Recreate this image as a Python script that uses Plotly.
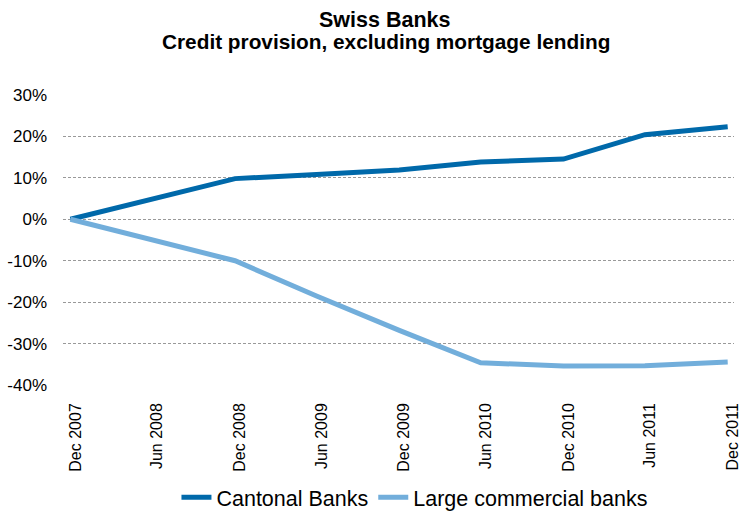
import plotly.graph_objects as go

# Semi-annual observation dates and axis labels
dates = ["2007-12-31", "2008-06-30", "2008-12-31", "2009-06-30", "2009-12-31",
         "2010-06-30", "2010-12-31", "2011-06-30", "2011-12-31"]
tick_labels = ["Dec 2007", "Jun 2008", "Dec 2008", "Jun 2009", "Dec 2009",
               "Jun 2010", "Dec 2010", "Jun 2011", "Dec 2011"]

# Cumulative change in credit provision (%), excluding mortgage lending
cantonal = [0.0, 5.0, 9.8, 10.8, 11.9, 13.8, 14.5, 20.4, 22.3]
large_commercial = [0.0, -5.0, -10.0, -18.5, -26.8, -34.6, -35.4, -35.3, -34.4]

y_ticks = [30, 20, 10, 0, -10, -20, -30, -40]
y_tick_labels = [f"{v}%" for v in y_ticks]

DARK = "#0069aa"
LIGHT = "#72aedb"
FONT = "Liberation Sans, Arial, Helvetica, sans-serif"

fig = go.Figure()
fig.add_trace(go.Scatter(x=dates, y=cantonal, name="Cantonal Banks", mode="lines",
                         line=dict(color=DARK, width=5), cliponaxis=False))
fig.add_trace(go.Scatter(x=dates, y=large_commercial, name="Large commercial banks",
                         mode="lines", line=dict(color=LIGHT, width=5), cliponaxis=False))

fig.update_layout(
    width=741, height=512,
    margin=dict(l=63, r=0, t=94, b=126),
    paper_bgcolor="white", plot_bgcolor="white",
    font=dict(family=FONT, color="#000000"),
    showlegend=True,
    legend=dict(orientation="h", xref="container", yref="container",
                x=0.56, xanchor="center", y=0.029, yanchor="middle",
                font=dict(size=21.5), itemwidth=30, tracegroupgap=0),
    annotations=[
        dict(text="<b>Swiss Banks</b>", xref="paper", yref="paper",
             x=(387.5 - 63) / 678, y=(386 - 20) / 292, showarrow=False,
             xanchor="center", yanchor="middle", font=dict(size=21.5)),
        dict(text="<b>Credit provision, excluding mortgage lending</b>", xref="paper",
             yref="paper", x=(389.5 - 63) / 678, y=(386 - 41) / 292, showarrow=False,
             xanchor="center", yanchor="middle", font=dict(size=20.8)),
    ],
)

fig.update_xaxes(
    type="date",
    range=["2007-12-14 12:00", "2012-01-14"],
    tickvals=dates, ticktext=tick_labels, tickangle=-90,
    tickfont=dict(size=16), showgrid=False, zeroline=False,
    showline=False, ticks="", ticklabelstandoff=13, ticklabelshift=5,
    ticklabeloverflow="allow",
)
fig.update_yaxes(
    range=[-40.2, 30.2], tickvals=y_ticks, ticktext=y_tick_labels,
    tickfont=dict(size=17), showgrid=True, gridcolor="#999999",
    griddash="3px,2px", gridwidth=1, zeroline=False, showline=False,
    ticks="", ticklabelstandoff=15,
)

fig.write_html("out.html")
